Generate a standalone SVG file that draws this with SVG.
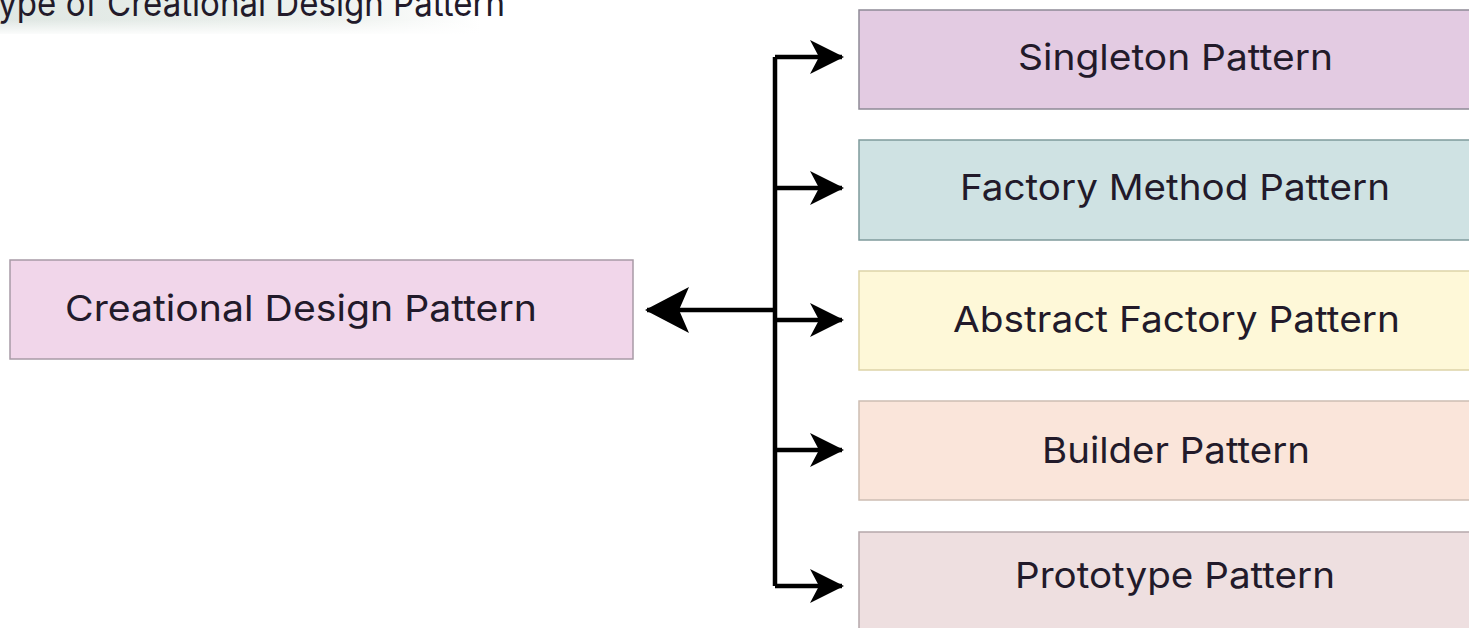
<svg xmlns="http://www.w3.org/2000/svg" width="1469" height="628" viewBox="0 0 1469 628">
  <defs>
    <linearGradient id="titleBand" x1="0" y1="0" x2="1" y2="0">
      <stop offset="0" stop-color="#dfe7e3"/>
      <stop offset="0.7" stop-color="#eef2ef"/>
      <stop offset="1" stop-color="#ffffff"/>
    </linearGradient>
    <linearGradient id="titleFade" x1="0" y1="0" x2="0" y2="1">
      <stop offset="0" stop-color="#ffffff" stop-opacity="0"/>
      <stop offset="1" stop-color="#ffffff" stop-opacity="1"/>
    </linearGradient>
    <marker id="headR" viewBox="0 0 34 36" refX="32" refY="18" markerWidth="34" markerHeight="36" markerUnits="userSpaceOnUse" orient="auto">
      <path d="M0,1 L34,18 L0,35 L9,18 Z" fill="#000"/>
    </marker>
    <marker id="headL" viewBox="0 0 44 48" refX="42" refY="24" markerWidth="44" markerHeight="48" markerUnits="userSpaceOnUse" orient="auto">
      <path d="M0,1 L44,24 L0,47 L10,24 Z" fill="#000"/>
    </marker>
  </defs>
  <style>
    .box { stroke-width: 1.5; }
    .label { font-family: Inter, "Noto Sans", "Liberation Sans", sans-serif; font-size: 36px; fill: #221a2a; }
    .wire { fill: none; stroke: #000; stroke-width: 4.5; }
  </style>

  <rect width="1469" height="628" fill="#ffffff"/>

  <!-- heading strip, clipped by the top edge -->
  <g id="title">
    <rect x="0" y="0" width="480" height="34" fill="url(#titleBand)"/>
    <rect x="0" y="20" width="480" height="16" fill="url(#titleFade)"/>
    <text class="label" x="-21" y="16" textLength="526" lengthAdjust="spacingAndGlyphs">Type of Creational Design Pattern</text>
  </g>

  <g id="connectors">
    <path class="wire" d="M775,57 L775,586"/>
    <path class="wire" d="M775,57 L842,57" marker-end="url(#headR)"/>
    <path class="wire" d="M775,188 L842,188" marker-end="url(#headR)"/>
    <path class="wire" d="M775,320 L842,320" marker-end="url(#headR)"/>
    <path class="wire" d="M775,450 L842,450" marker-end="url(#headR)"/>
    <path class="wire" d="M775,586 L842,586" marker-end="url(#headR)"/>
    <path class="wire" d="M775,310 L647,310" marker-end="url(#headL)"/>
  </g>

  <g id="creational">
    <rect class="box" x="10" y="260" width="623" height="99" fill="#f1d6ea" stroke="#a89aa6"/>
    <text class="label" x="65" y="321" textLength="472" lengthAdjust="spacingAndGlyphs">Creational Design Pattern</text>
  </g>

  <g id="singleton">
    <rect class="box" x="859" y="10" width="640" height="99" fill="#e3cbe2" stroke="#8e8a96"/>
    <text class="label" x="1018" y="70" textLength="315" lengthAdjust="spacingAndGlyphs">Singleton Pattern</text>
  </g>

  <g id="factory-method">
    <rect class="box" x="859" y="140" width="640" height="100" fill="#cfe2e3" stroke="#7f9a9c"/>
    <text class="label" x="960" y="200" textLength="430" lengthAdjust="spacingAndGlyphs">Factory Method Pattern</text>
  </g>

  <g id="abstract-factory">
    <rect class="box" x="859" y="271" width="640" height="99" fill="#fef8d8" stroke="#ddd3a8"/>
    <text class="label" x="953" y="332" textLength="447" lengthAdjust="spacingAndGlyphs">Abstract Factory Pattern</text>
  </g>

  <g id="builder">
    <rect class="box" x="859" y="401" width="640" height="99" fill="#fae5da" stroke="#cdbdb3"/>
    <text class="label" x="1042" y="463" textLength="268" lengthAdjust="spacingAndGlyphs">Builder Pattern</text>
  </g>

  <g id="prototype">
    <rect class="box" x="859" y="532" width="640" height="120" fill="#eedfe0" stroke="#b5a8aa"/>
    <text class="label" x="1015" y="588" textLength="320" lengthAdjust="spacingAndGlyphs">Prototype Pattern</text>
  </g>
</svg>
